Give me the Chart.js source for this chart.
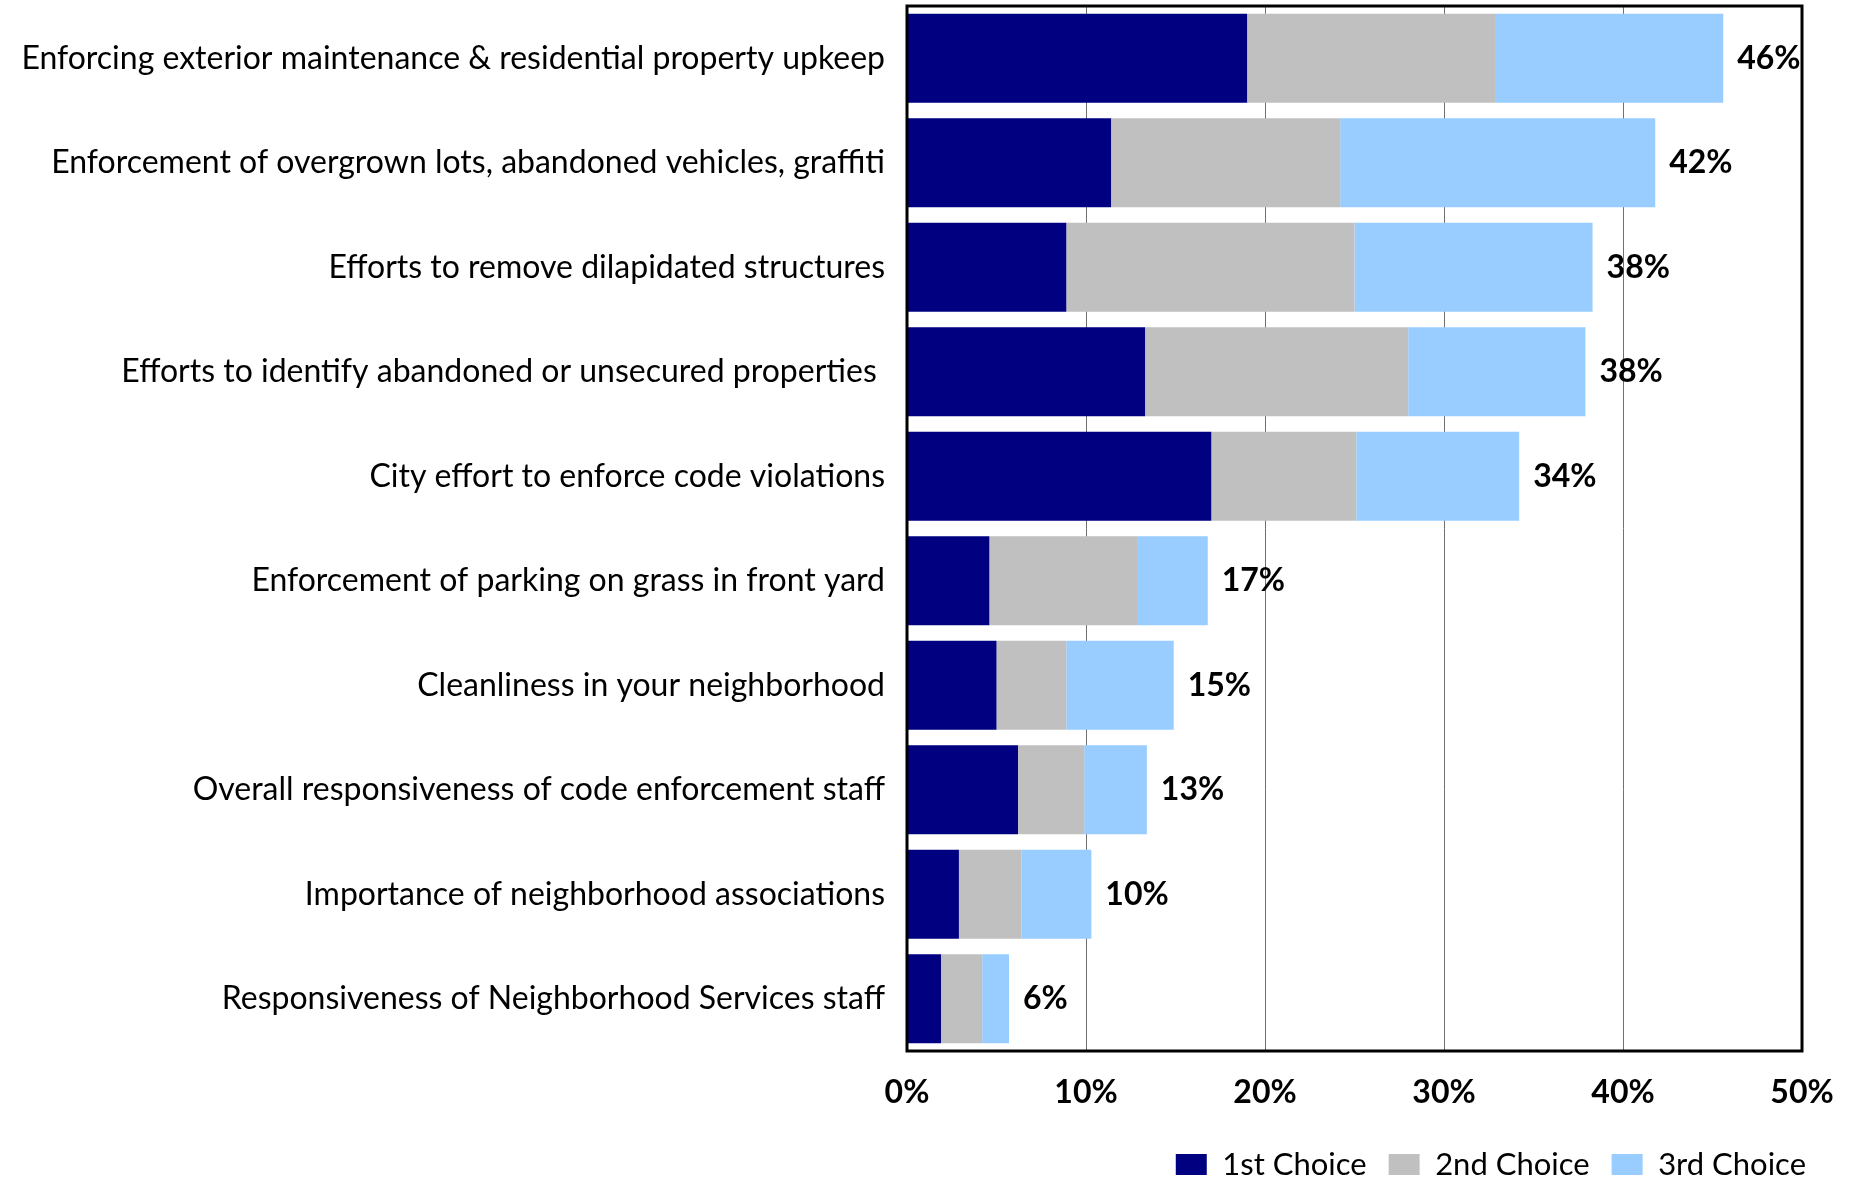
<!DOCTYPE html>
<html>
<head>
<meta charset="utf-8">
<script src="https://cdn.jsdelivr.net/npm/chart.js@4"></script>
<style>
  html, body { margin: 0; padding: 0; background: #fff; }
  #wrap { width: 1856px; height: 1179px; }
</style>
</head>
<body>
<div id="wrap"><canvas id="myChart"></canvas></div>
<script>
const categorias = [
    'Enforcing exterior maintenance & residential property upkeep',
    'Enforcement of overgrown lots, abandoned vehicles, graffiti',
    'Efforts to remove dilapidated structures',
    'Efforts to identify abandoned or unsecured properties ',
    'City effort to enforce code violations',
    'Enforcement of parking on grass in front yard',
    'Cleanliness in your neighborhood',
    'Overall responsiveness of code enforcement staff',
    'Importance of neighborhood associations',
    'Responsiveness of Neighborhood Services staff'
]
const primera = [19.0, 11.4, 8.9, 13.3, 17.0, 4.6, 5.0, 6.2, 2.9, 1.9]
const segunda = [13.9, 12.8, 16.1, 14.7, 8.1, 8.3, 3.9, 3.7, 3.5, 2.3]
const tercera = [12.7, 17.6, 13.3, 9.9, 9.1, 3.9, 6.0, 3.5, 3.9, 1.5]
const ticksX = [0, 10, 20, 30, 40, 50]

const fuente = 'Lato, "Open Sans", sans-serif'

// marco negro alrededor del area del grafico
const marco = {
    id: 'marco',
    afterDraw(chart) {
        const {ctx, chartArea} = chart
        ctx.save()
        ctx.strokeStyle = '#000'
        ctx.lineWidth = 3
        ctx.strokeRect(chartArea.left, chartArea.top, chartArea.right - chartArea.left, chartArea.bottom - chartArea.top)
        ctx.restore()
    }
}

// total de cada fila al final de la barra
const totales = {
    id: 'totales',
    afterDatasetsDraw(chart) {
        const {ctx} = chart
        const meta = chart.getDatasetMeta(2)
        ctx.save()
        ctx.font = 'bold 32px ' + fuente
        ctx.fillStyle = '#000'
        ctx.textAlign = 'left'
        ctx.textBaseline = 'middle'
        meta.data.forEach((bar, i) => {
            const total = primera[i] + segunda[i] + tercera[i]
            ctx.fillText(Math.round(total) + '%', bar.x + 14, bar.y)
        })
        ctx.restore()
    }
}

const ctx = document.getElementById('myChart')
new Chart(ctx, {
    type: 'bar',
    data: {
        labels: categorias,
        datasets: [
            { label: '1st Choice', data: primera, backgroundColor: '#000080' },
            { label: '2nd Choice', data: segunda, backgroundColor: '#C0C0C0' },
            { label: '3rd Choice', data: tercera, backgroundColor: '#99CCFF' }
        ]
    },
    options: {
        indexAxis: 'y',
        responsive: true,
        maintainAspectRatio: false,
        animation: false,
        datasets: {
            bar: { borderWidth: 0, barPercentage: 0.85, categoryPercentage: 1 }
        },
        layout: { padding: { top: 6, right: 28, left: 0, bottom: 0 } },
        scales: {
            x: {
                stacked: true,
                min: 0,
                max: 50,
                afterBuildTicks: s => { s.ticks = ticksX.map(v => ({ value: v })) },
                afterFit: s => {
                    s.height = 76
                    s.paddingLeft = 0
                    s.paddingRight = 54
                },
                border: { display: false },
                grid: {
                    drawTicks: false,
                    color: c => (c.tick && (c.tick.value === 0 || c.tick.value === 50)) ? 'rgba(0,0,0,0)' : '#707070',
                    lineWidth: 1
                },
                ticks: {
                    padding: 22,
                    color: '#000',
                    font: { family: fuente, size: 32, weight: 'bold' },
                    callback: v => v + '%'
                }
            },
            y: {
                stacked: true,
                border: { display: false },
                grid: { display: false, drawTicks: false },
                afterFit: s => {
                    s.width = 907
                    s.paddingTop = 0
                    s.paddingBottom = 0
                },
                ticks: {
                    padding: 22,
                    color: '#000',
                    font: { family: fuente, size: 32 }
                }
            }
        },
        plugins: {
            legend: {
                position: 'bottom',
                align: 'end',
                maxHeight: 52,
                labels: {
                    boxWidth: 31,
                    boxHeight: 21,
                    padding: 22,
                    color: '#000',
                    font: { family: fuente, size: 31 }
                }
            },
            tooltip: { enabled: false }
        }
    },
    plugins: [marco, totales]
})
</script>
</body>
</html>
